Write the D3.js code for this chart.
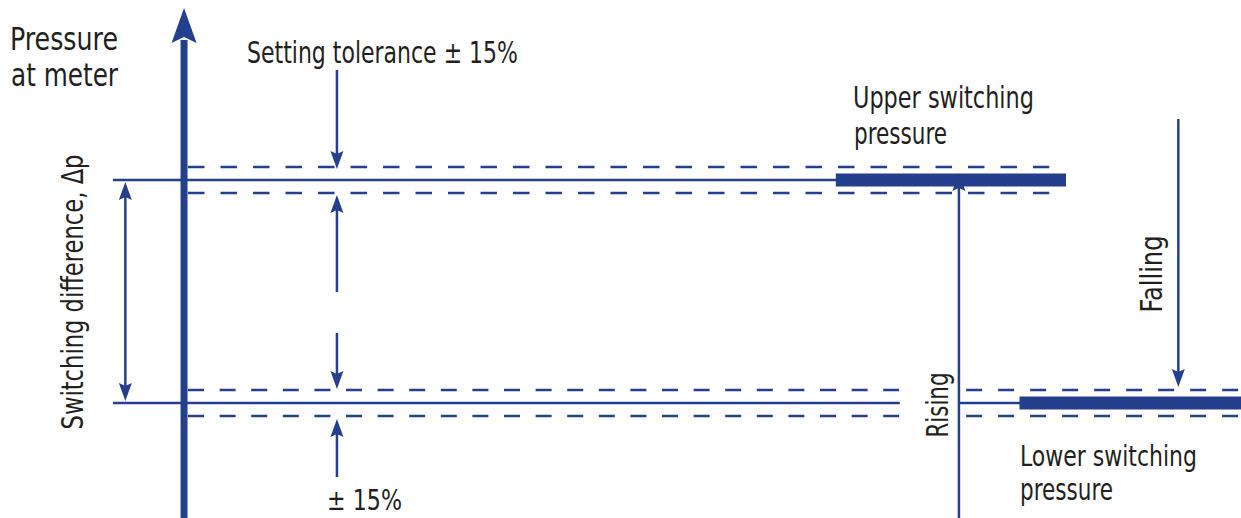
<!DOCTYPE html>
<html>
<head>
<meta charset="utf-8">
<script src="https://cdn.jsdelivr.net/npm/d3@7"></script>
<style>
  html, body { margin: 0; padding: 0; background: #fff; }
  svg text { font-family: "Liberation Sans Narrow", "Arial Narrow", "DejaVu Sans Condensed", "DejaVu Sans", sans-serif; fill: #231f20; }
</style>
</head>
<body>
<svg id="chart" width="1241" height="518"></svg>
<script>
// ---- Data (relative pressure levels; 0 = lower switching, 1 = upper switching) ----
const levelNames = ["Upper switching pressure", "Lower switching pressure"];
const levelValues = [1, 0];
const tolerance = 0.058;            // setting tolerance band (± 15 %)
const axisLabel = ["Pressure", "at meter"];
const toleranceLabel = "Setting tolerance ± 15%";
const toleranceLabelLower = "± 15%";
const differenceLabel = "Switching difference, Δp";
const directionLabels = ["Rising", "Falling"];

// ---- Scales ----
const W = 1241, H = 518;
const y = d3.scaleLinear().domain([0, 1]).range([403, 180]);
const x = d3.scaleLinear().domain([0, 100]).range([0, W]);   // horizontal diagram units

const BLUE = "#253f8f";
const svg = d3.select("#chart");

function arrowHead(g, tx, ty, dir, len, hw, notch) {
  const s = dir === "up" ? 1 : -1;
  const by = ty + s * len;
  const p = d3.path();
  p.moveTo(tx, ty);
  p.lineTo(tx - hw, by);
  p.lineTo(tx, by - s * notch);
  p.lineTo(tx + hw, by);
  p.closePath();
  g.append("path").attr("d", p.toString()).attr("fill", BLUE);
}
function vArrow(g, xx, y0, y1, opts = {}) {
  const dir = y1 < y0 ? "up" : "down";
  const len = opts.len || 18, hw = opts.hw || 6.5, notch = opts.notch || 3;
  const s = dir === "up" ? 1 : -1;
  g.append("line").attr("x1", xx).attr("x2", xx)
    .attr("y1", y0).attr("y2", y1 + s * (len - notch - 1))
    .attr("stroke", BLUE).attr("stroke-width", opts.sw || 2.5);
  arrowHead(g, xx, y1, dir, len, hw, notch);
}

const g = svg.append("g");

// ---- Horizontal level lines ----
const xAxisPos = x(14.83);
const solidSegments = [
  { v: levelValues[0], x0: x(9.1), x1: x(67.4) },
  { v: levelValues[1], x0: x(9.1), x1: x(72.5) },
  { v: levelValues[1], x0: x(77.25), x1: x(82.2) }
];
solidSegments.forEach(s => {
  g.append("line").attr("x1", s.x0).attr("x2", s.x1)
    .attr("y1", y(s.v)).attr("y2", y(s.v))
    .attr("stroke", BLUE).attr("stroke-width", 2.5);
});

// thick switching bars
const bars = [
  { v: levelValues[0], x0: x(67.35), x1: x(85.9) },
  { v: levelValues[1], x0: x(82.15), x1: x(100) }
];
bars.forEach(b => {
  g.append("rect").attr("x", b.x0).attr("width", b.x1 - b.x0)
    .attr("y", y(b.v) - 6.5).attr("height", 13).attr("fill", BLUE);
});

// dashed tolerance lines
const dashSegments = [
  { v: levelValues[0], x0: x(15.15), x1: x(84.55), dash: "16.5,16" },
  { v: levelValues[1], x0: x(15.15), x1: x(72.45), dash: "16,15.6" },
  { v: levelValues[1], x0: x(77.85), x1: x(100),   dash: "16,16" }
];
dashSegments.forEach(d => {
  [1, -1].forEach(sign => {
    const yy = y(d.v + sign * tolerance);
    g.append("line").attr("x1", d.x0).attr("x2", d.x1)
      .attr("y1", yy).attr("y2", yy)
      .attr("stroke", BLUE).attr("stroke-width", 2.5)
      .attr("stroke-dasharray", d.dash);
  });
});

// ---- Main pressure axis ----
g.append("line").attr("x1", xAxisPos).attr("x2", xAxisPos)
  .attr("y1", H).attr("y2", 40).attr("stroke", BLUE).attr("stroke-width", 7);
arrowHead(g, xAxisPos, 8, "up", 35, 12.5, 6);

// ---- Tolerance arrows ----
const tolX = x(27.15);
const gap = 2;
vArrow(g, tolX, 70, y(levelValues[0] + tolerance) + gap);
vArrow(g, tolX, 292, y(levelValues[0] - tolerance) + gap);
vArrow(g, tolX, 333, y(levelValues[1] + tolerance) - 1);
vArrow(g, tolX, 477, y(levelValues[1] - tolerance) + 3);

// ---- Switching difference double arrow ----
const dX = x(10.1);
g.append("line").attr("x1", dX).attr("x2", dX)
  .attr("y1", y(levelValues[0]) + 15).attr("y2", y(levelValues[1]) - 15)
  .attr("stroke", BLUE).attr("stroke-width", 2.5);
arrowHead(g, dX, y(levelValues[0]) + 2, "up", 18, 6.5, 3);
arrowHead(g, dX, y(levelValues[1]) - 2, "down", 18, 6.5, 3);

// ---- Rising / Falling arrows ----
const riseX = x(77.27), fallX = x(94.95);
vArrow(g, riseX, H, y(levelValues[0]) - 7, { sw: 2.5 });
vArrow(g, fallX, 119, y(levelValues[1] + tolerance) - 3, { sw: 2.5 });

// ---- Text (condensed to the reference widths) ----
const FS = 31;
function label(txt, tx, ty, width, opts = {}) {
  const t = svg.append("text")
    .attr("font-size", opts.fs || FS)
    .attr("textLength", width)
    .attr("lengthAdjust", "spacingAndGlyphs")
    .text(txt);
  if (opts.rotate) {
    t.attr("transform", `translate(${tx},${ty}) rotate(-90)`).attr("text-anchor", "middle");
  } else {
    t.attr("x", tx).attr("y", ty);
  }
  return t;
}
label(axisLabel[0], 10, 50, 108, { fs: 32 });
label(axisLabel[1], 11, 86, 107, { fs: 32 });

label(toleranceLabel, 247, 63, 271);
label(toleranceLabelLower, 327, 510, 75, { fs: 29 });

label("Upper switching", 853, 108, 181);
label("pressure", 854, 144, 93);
label("Lower switching", 1020, 466, 177, { fs: 29 });
label("pressure", 1020, 500, 93);

label(differenceLabel, 83, 292, 275, { rotate: true });
label(directionLabels[0], 948, 405, 65, { rotate: true });
label(directionLabels[1], 1162, 274, 77, { rotate: true });
</script>
</body>
</html>
